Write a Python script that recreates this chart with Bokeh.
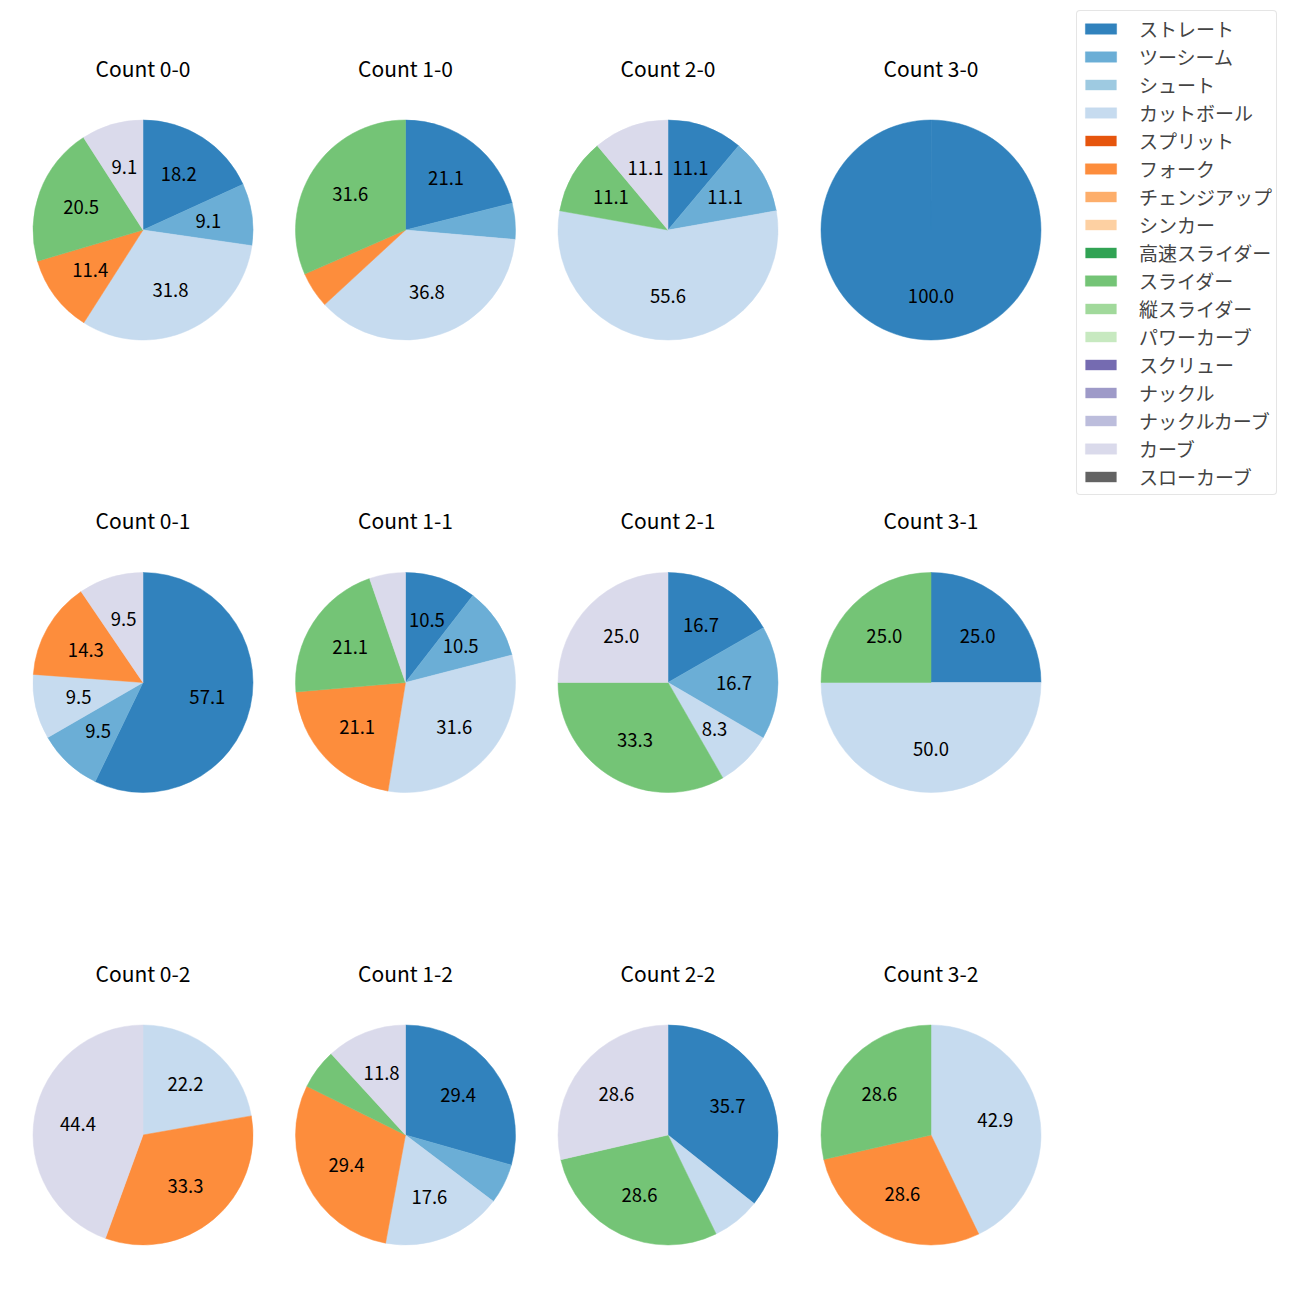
import math
from bokeh.plotting import figure
from bokeh.models import ColumnDataSource, Range1d, Legend
from bokeh.core.properties import value
from bokeh.embed import file_html
from bokeh.resources import INLINE

FONT = "Noto Sans CJK JP"

pitch_types = ["ストレート", "ツーシーム", "シュート", "カットボール", "スプリット", "フォーク",
               "チェンジアップ", "シンカー", "高速スライダー", "スライダー", "縦スライダー",
               "パワーカーブ", "スクリュー", "ナックル", "ナックルカーブ", "カーブ", "スローカーブ"]
colors = ["#3182bd", "#6baed6", "#9ecae1", "#c6dbef", "#e6550d", "#fd8d3c", "#fdae6b", "#fdd0a2",
          "#31a354", "#74c476", "#a1d99b", "#c7e9c0", "#756bb1", "#9e9ac8", "#bcbddc", "#dadaeb",
          "#636363"]

# percentages per count, in pitch_types order
count_labels = ["Count 0-0", "Count 1-0", "Count 2-0", "Count 3-0",
                "Count 0-1", "Count 1-1", "Count 2-1", "Count 3-1",
                "Count 0-2", "Count 1-2", "Count 2-2", "Count 3-2"]
c_0_0 = [18.2, 9.1, 0, 31.8, 0, 11.4, 0, 0, 0, 20.5, 0, 0, 0, 0, 0, 9.1, 0]
c_1_0 = [21.1, 5.3, 0, 36.8, 0, 5.3, 0, 0, 0, 31.6, 0, 0, 0, 0, 0, 0, 0]
c_2_0 = [11.1, 11.1, 0, 55.6, 0, 0, 0, 0, 0, 11.1, 0, 0, 0, 0, 0, 11.1, 0]
c_3_0 = [100.0, 0, 0, 0, 0, 0, 0, 0, 0, 0, 0, 0, 0, 0, 0, 0, 0]
c_0_1 = [57.1, 9.5, 0, 9.5, 0, 14.3, 0, 0, 0, 0, 0, 0, 0, 0, 0, 9.5, 0]
c_1_1 = [10.5, 10.5, 0, 31.6, 0, 21.1, 0, 0, 0, 21.1, 0, 0, 0, 0, 0, 5.3, 0]
c_2_1 = [16.7, 16.7, 0, 8.3, 0, 0, 0, 0, 0, 33.3, 0, 0, 0, 0, 0, 25.0, 0]
c_3_1 = [25.0, 0, 0, 50.0, 0, 0, 0, 0, 0, 25.0, 0, 0, 0, 0, 0, 0, 0]
c_0_2 = [0, 0, 0, 22.2, 0, 33.3, 0, 0, 0, 0, 0, 0, 0, 0, 0, 44.4, 0]
c_1_2 = [29.4, 5.9, 0, 17.6, 0, 29.4, 0, 0, 0, 5.9, 0, 0, 0, 0, 0, 11.8, 0]
c_2_2 = [35.7, 0, 0, 7.1, 0, 0, 0, 0, 0, 28.6, 0, 0, 0, 0, 0, 28.6, 0]
c_3_2 = [0, 0, 0, 42.9, 0, 28.6, 0, 0, 0, 28.6, 0, 0, 0, 0, 0, 0, 0]
all_counts = [c_0_0, c_1_0, c_2_0, c_3_0, c_0_1, c_1_1, c_2_1, c_3_1, c_0_2, c_1_2, c_2_2, c_3_2]

W, H = 1300, 1300
R = 110
COL_X = [142.5, 405, 667.5, 930.5]
ROW_Y = [229.5, 682, 1134.5]  # from top

p = figure(width=W, height=H, output_backend="svg", toolbar_location=None,
           x_range=Range1d(0, W), y_range=Range1d(0, H), min_border=0)
p.axis.visible = False
p.grid.visible = False
p.outline_line_color = None

per_type = {i: dict(x=[], y=[], r=[], s=[], e=[]) for i in range(len(pitch_types))}
lab = dict(x=[], y=[], t=[])
tit = dict(x=[], y=[], t=[])

for k, vals in enumerate(all_counts):
    cx = COL_X[k % 4]
    cy = H - ROW_Y[k // 4]
    tot = sum(vals)
    cum = 0.0
    for i, v in enumerate(vals):
        if v <= 0:
            continue
        a0 = math.pi / 2 - 2 * math.pi * (cum + v) / tot
        a1 = math.pi / 2 - 2 * math.pi * cum / tot
        if a1 - a0 > 2 * math.pi - 1e-3:
            a1 = a0 + 2 * math.pi - 1e-3
        per_type[i]["x"].append(cx)
        per_type[i]["y"].append(cy)
        per_type[i]["r"].append(R)
        per_type[i]["s"].append(a0)
        per_type[i]["e"].append(a1)
        if v >= 8:
            m = (a0 + a1) / 2
            lab["x"].append(cx + 0.6 * R * math.cos(m))
            lab["y"].append(cy + 0.6 * R * math.sin(m))
            lab["t"].append(f"{v:.1f}")
        cum += v
    tit["x"].append(cx)
    tit["y"].append(cy + 162.5)
    tit["t"].append(count_labels[k])

items = []
for i, name in enumerate(pitch_types):
    d = per_type[i]
    empty = len(d["x"]) == 0
    if empty:
        # zero-radius placeholder so the legend swatch is drawn
        d = dict(x=[COL_X[0]], y=[H - ROW_Y[0]], r=[0.0], s=[0.0], e=[0.5])
    src = ColumnDataSource(d)
    r = p.wedge(x="x", y="y", radius="r", start_angle="s", end_angle="e", source=src,
                fill_color=colors[i], line_color=None if empty else colors[i], line_width=0.5)
    items.append((name, [r]))

p.text(x="x", y="y", text="t", source=ColumnDataSource(lab), text_align="center",
       text_baseline="middle", text_font=value(FONT), text_font_size="18.5px", text_color="black")
p.text(x="x", y="y", text="t", source=ColumnDataSource(tit), text_align="center",
       text_baseline="middle", text_font=value(FONT), text_font_size="21px", text_color="black")

PAD = 4
ITEM_H = 27
SPACING = 1
TOP = 12
leg_h = 2 * PAD + 17 * ITEM_H + 16 * SPACING
legend = Legend(items=items, location=(1076, H - TOP - leg_h))
legend.label_text_font = FONT
legend.label_text_font_size = "19px"
legend.glyph_width = 39
legend.glyph_height = 13
legend.label_height = 20
legend.spacing = SPACING
legend.padding = PAD
legend.margin = 0
legend.label_standoff = 19
legend.border_line_color = "#cccccc"
legend.background_fill_alpha = 0.8
if "border_radius" in Legend.properties():
    legend.border_radius = 4
p.add_layout(legend)

open("out.html", "w").write(file_html(p, INLINE))
